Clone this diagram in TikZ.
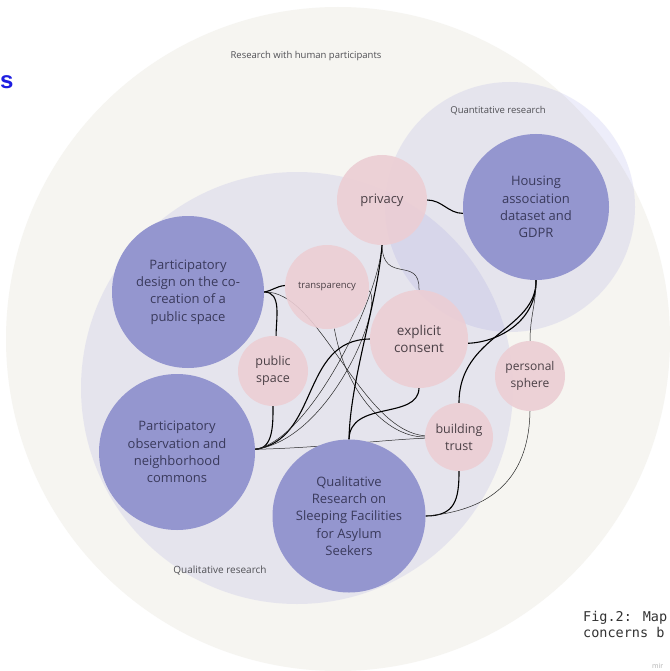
\documentclass[tikz,border=0pt]{standalone}
\usepackage{fontspec}
\setmainfont{Open Sans}
\newfontfamily\monof{DejaVu Sans Mono}
\newfontfamily\arialf{Liberation Sans}
\pgfdeclarelayer{bg}
\pgfdeclarelayer{edges}
\pgfsetlayers{bg,edges,main}
\definecolor{offwhite}{RGB}{246,245,241}
\definecolor{lav}{RGB}{118,117,217}
\definecolor{purp}{RGB}{148,150,207}
\definecolor{pinkc}{RGB}{236,206,212}
\definecolor{ptext}{RGB}{58,58,92}
\definecolor{ktext}{RGB}{75,64,70}
\definecolor{ltext}{RGB}{80,80,85}
\definecolor{sblue}{RGB}{30,30,225}
\tikzset{
  bignode/.style={circle, fill=purp, draw=none, text=ptext, align=center, inner sep=0pt,
    font=\fontsize{13}{17.3}\selectfont},
  smallnode/.style={circle, fill=pinkc, fill opacity=0.9, text opacity=1, draw=none, text=ktext, align=center, inner sep=0pt},
  thk/.style={draw=black, line width=1.1pt},
  thn/.style={draw=black!85, line width=0.5pt},
  setlabel/.style={text=ltext, inner sep=0pt}
}
\begin{document}
\begin{tikzpicture}[x=1pt,y=-1pt]
\useasboundingbox (0,0) rectangle (669,671);
\begin{pgfonlayer}{bg}
  \fill[white] (0,0) rectangle (669,671);
  \fill[offwhite] (338,339) circle[radius=332pt];
  \fill[lav, opacity=0.125] (510,207) circle[radius=125pt];
  \fill[lav, opacity=0.125] (297,388) circle[radius=216pt];
\end{pgfonlayer}

\node[setlabel, font=\fontsize{9.5}{11}\selectfont] (lres) at (306,56) {Research with human participants};
\node[setlabel, font=\fontsize{9.5}{11}\selectfont] (lquant) at (498,111) {Quantitative research};
\node[setlabel, font=\fontsize{10}{12}\selectfont] (lqual) at (220,571) {Qualitative research};

% big nodes
\node[bignode, minimum size=152pt] (design) at (188,292) {Participatory\\design on the co-\\creation of a\\public space};
\node[bignode, minimum size=156pt] (obs) at (177,452) {Participatory\\observation and\\neighborhood\\commons};
\node[bignode, minimum size=153pt] (qual) at (349,516) {Qualitative\\Research on\\Sleeping Facilities\\for Asylum\\Seekers};
\node[bignode, minimum size=146pt] (housing) at (536,207) {Housing\\association\\dataset and\\GDPR};

% small nodes
\node[smallnode, minimum size=90pt, font=\fontsize{13}{16}\selectfont] (privacy) at (382,200) {privacy};
\node[smallnode, minimum size=84pt, font=\fontsize{9.5}{11}\selectfont] (transp) at (327,287) {transparency};
\node[smallnode, minimum size=98pt, font=\fontsize{13.5}{17}\selectfont] (consent) at (419,339) {explicit\\consent};
\node[smallnode, minimum size=70pt, font=\fontsize{12.5}{17}\selectfont] (pspace) at (273,371) {public\\space};
\node[smallnode, minimum size=68pt, font=\fontsize{12.5}{17}\selectfont] (trust) at (459,437) {building\\trust};
\node[smallnode, minimum size=70pt, font=\fontsize{12}{16.5}\selectfont] (sphere) at (530,376) {personal\\sphere};

\begin{pgfonlayer}{edges}
  \draw[thk] (design.0) to[out=10,in=185] (transp.178);
  \draw[thk] (design.0) to[out=0,in=90] (pspace.85);
  \draw[thn] (design.0) .. controls (320,290) and (360,430) .. (trust.178);
  \draw[thn] (transp.-80) .. controls (345,390) and (385,437) .. (trust.180);
  \draw[thk] (obs.2) to[out=0,in=-90] (pspace.-90);
  \draw[thk] (obs.2) .. controls (320,440) and (300,340) .. (consent.180);
  \draw[thn] (obs.2) .. controls (310,440) and (378,300) .. (privacy.-90);
  \draw[thn] (obs.2) .. controls (330,440) and (385,305) .. (transp.-5);
  \draw[thn] (obs.2) .. controls (320,448) and (380,440) .. (trust.182);
  \draw[thk] (qual.90) .. controls (350,380) and (378,300) .. (privacy.-90);
  \draw[thk] (qual.90) .. controls (350,400) and (418,420) .. (consent.-90);
  \draw[thk] (privacy.0) to[out=0,in=180] (housing.185);
  \draw[thn] (privacy.-90) .. controls (383,285) and (420,255) .. (consent.90);
  \draw[thk] (housing.-90) .. controls (537,320) and (500,342) .. (consent.-5);
  \draw[thk] (housing.-90) .. controls (537,330) and (459,335) .. (trust.90);
  \draw[thn] (housing.-90) to[out=-90,in=90] (sphere.90);
  \draw[thk] (qual.0) .. controls (455,516) and (459,500) .. (trust.-90);
  \draw[thn] (qual.0) .. controls (500,510) and (529,470) .. (sphere.-90);
\end{pgfonlayer}

% partial texts at edges
\node[anchor=west, inner sep=0pt, text=sblue, font=\arialf\bfseries\fontsize{24}{26}\selectfont] (sfrag) at (0,82) {s};
\node[anchor=north west, inner sep=0pt, align=left, text=black!80, font=\monof\fontsize{13.5}{16}\selectfont] (cap) at (583,611) {Fig.2: Map\\concerns b};
\node[anchor=west, inner sep=0pt, text=black!30, font=\fontsize{7}{8}\selectfont] (mir) at (652,666) {mir};
\end{tikzpicture}
\end{document}
